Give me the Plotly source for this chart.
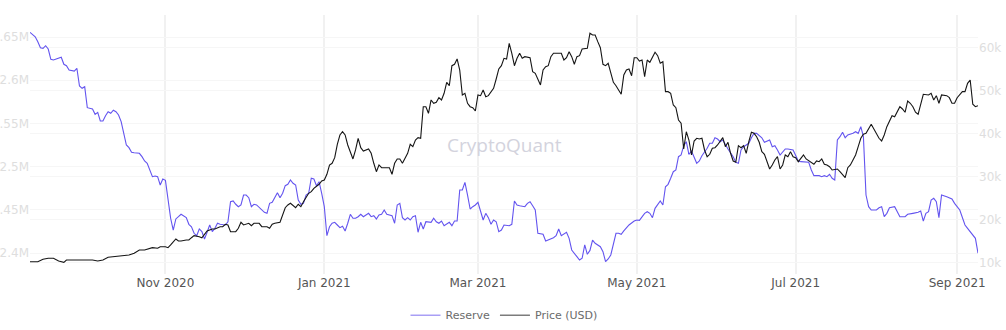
import pandas as pd
import plotly.graph_objects as go

# Day offsets are counted from START (daily series).
START = "2020-09-10"

reserve_day = [
    0, 2, 3, 4, 5, 6, 7, 8, 9, 11, 12, 13, 14, 15, 17, 18, 19, 20, 21, 22,
    23, 24, 25, 26, 27, 28, 29, 30, 31, 32, 33, 34, 35, 36, 37, 38, 39, 40, 42, 43,
    44, 45, 46, 47, 48, 49, 50, 51, 52, 53, 54, 55, 56, 57, 58, 60, 61, 62, 63, 64,
    65, 66, 67, 68, 69, 70, 71, 72, 73, 75, 76, 77, 78, 79, 80, 81, 82, 83, 84, 85,
    86, 87, 88, 90, 91, 92, 93, 94, 95, 96, 97, 98, 99, 100, 101, 102, 103, 104, 105, 106,
    107, 108, 109, 110, 111, 112, 113, 114, 115, 116, 117, 118, 119, 120, 121, 122, 123, 124, 125, 126,
    127, 128, 130, 131, 132, 133, 134, 135, 136, 137, 139, 140, 141, 142, 143, 144, 145, 146, 147, 148,
    149, 150, 151, 152, 154, 155, 156, 157, 158, 159, 161, 162, 163, 164, 165, 166, 167, 168, 169, 170,
    171, 172, 173, 174, 175, 176, 177, 178, 179, 180, 181, 182, 184, 185, 186, 187, 188, 190, 191, 192,
    193, 194, 195, 197, 198, 199, 201, 202, 203, 204, 206, 207, 208, 210, 211, 212, 213, 214, 215, 216,
    217, 219, 220, 221, 222, 223, 225, 226, 227, 228, 229, 230, 232, 233, 234, 235, 236, 237, 238, 239,
    240, 242, 243, 244, 245, 246, 247, 248, 249, 250, 251, 252, 253, 254, 255, 256, 257, 258, 260, 261,
    262, 263, 264, 265, 266, 267, 268, 270, 271, 272, 273, 274, 276, 277, 278, 279, 280, 281, 282, 284,
    285, 286, 287, 288, 290, 291, 293, 294, 295, 296, 297, 299, 300, 301, 303, 304, 305, 306, 307, 308,
    309, 310, 311, 312, 313, 314, 316, 317, 318, 319, 320, 321, 322, 323, 325, 326, 327, 328, 329, 330,
    332, 333, 334, 336, 337, 339, 341, 342, 343, 344, 345, 346, 347, 348, 349, 350, 351, 352, 354, 355,
    357, 358, 359, 360, 361, 362, 363, 364,
]

reserve_btc = [
    2655400, 2650300, 2644600, 2637600, 2636900, 2639900, 2636100, 2624200, 2623400, 2626000,
    2626500, 2618400, 2616800, 2611800, 2610600, 2613800, 2593300, 2590600, 2592500, 2568200,
    2567500, 2566700, 2560500, 2562800, 2552800, 2552800, 2558900, 2563500, 2561700, 2565200,
    2563500, 2559700, 2552000, 2536600, 2525000, 2521900, 2516600, 2516100, 2515400, 2511500,
    2506500, 2503800, 2496900, 2488300, 2489100, 2488300, 2478700, 2485600, 2484100, 2459400,
    2440200, 2426600, 2439400, 2442000, 2444800, 2440900, 2433200, 2430400, 2422800, 2420000,
    2427800, 2424700, 2416200, 2424000, 2432400, 2424700, 2428600, 2434400, 2433200, 2432400,
    2436200, 2459400, 2460200, 2456400, 2453600, 2455600, 2467100, 2467100, 2464000, 2453600,
    2456400, 2455600, 2452400, 2447100, 2445900, 2457500, 2458700, 2464000, 2469800, 2464000,
    2469100, 2477900, 2479500, 2484500, 2480700, 2478700, 2461300, 2456400, 2457500, 2467100,
    2469100, 2486500, 2485600, 2477900, 2482500, 2469100, 2453600, 2420000, 2430400, 2434400,
    2435500, 2432400, 2429300, 2430900, 2425500, 2434400, 2444800, 2440200, 2440200, 2442000,
    2444800, 2442000, 2445900, 2442000, 2443200, 2439400, 2444000, 2444800, 2449800, 2444800,
    2443200, 2434400, 2455600, 2457500, 2440900, 2438200, 2440900, 2438200, 2442000, 2443200,
    2424000, 2435500, 2427800, 2436200, 2435500, 2440200, 2436200, 2434400, 2437000, 2431600,
    2435500, 2431600, 2437000, 2437000, 2472900, 2472900, 2481800, 2467100, 2450900, 2453600,
    2455600, 2458700, 2447800, 2438200, 2445900, 2440900, 2433200, 2438200, 2436200, 2424700,
    2426600, 2432400, 2431600, 2433200, 2460200, 2455600, 2454700, 2453600, 2457500, 2459400,
    2454700, 2449800, 2422800, 2421600, 2413900, 2415000, 2417700, 2420000, 2427800, 2420000,
    2424000, 2417000, 2403500, 2395700, 2391900, 2393900, 2409300, 2398500, 2403000, 2415000,
    2411200, 2407300, 2401500, 2389900, 2393100, 2397700, 2422800, 2422800, 2421600, 2425500,
    2428600, 2432400, 2437000, 2438200, 2437800, 2442000, 2445900, 2447800, 2445900, 2440900,
    2451700, 2460200, 2455600, 2476700, 2479500, 2486500, 2494100, 2496100, 2511500, 2513400,
    2524200, 2528800, 2514200, 2518100, 2510300, 2503800, 2506500, 2512600, 2521200, 2527000,
    2527000, 2533400, 2531900, 2528800, 2530800, 2525000, 2520400, 2511500, 2505000, 2503800,
    2519200, 2523000, 2527000, 2533400, 2538500, 2538500, 2535800, 2533400, 2528100, 2530800,
    2523000, 2524200, 2519200, 2513400, 2520400, 2520400, 2519200, 2513400, 2506500, 2505700,
    2505700, 2505000, 2496100, 2489500, 2489500, 2488300, 2489500, 2488300, 2491100, 2486500,
    2484500, 2530800, 2534600, 2539700, 2533400, 2536600, 2538500, 2540400, 2538500, 2546200,
    2534600, 2467100, 2453600, 2449800, 2449800, 2452400, 2453600, 2442000, 2445900, 2452400,
    2453600, 2448600, 2442000, 2442000, 2444800, 2445900, 2447100, 2448600, 2437000, 2445900,
    2447800, 2461300, 2463300, 2459400, 2440900, 2467100, 2466300, 2465200, 2462500, 2457500,
    2449800, 2440900, 2432400, 2428600, 2424700, 2421600, 2417000, 2399700,
]

price_day = [
    0, 3, 5, 7, 9, 11, 13, 14, 16, 19, 21, 24, 26, 28, 30, 33, 35, 38, 40, 42,
    44, 45, 47, 49, 50, 52, 53, 54, 56, 57, 58, 60, 61, 62, 63, 65, 66, 67, 68, 70,
    71, 73, 74, 75, 76, 77, 79, 80, 81, 82, 84, 85, 86, 88, 89, 91, 92, 93, 94, 96,
    97, 98, 99, 100, 102, 103, 104, 105, 107, 108, 109, 111, 112, 113, 114, 115, 116, 117, 118, 119,
    120, 121, 122, 124, 125, 126, 127, 128, 130, 131, 132, 133, 134, 135, 137, 138, 139, 140, 141, 142,
    143, 145, 146, 147, 148, 149, 150, 151, 152, 153, 154, 155, 156, 157, 158, 159, 160, 161, 162, 163,
    164, 165, 166, 167, 168, 169, 170, 171, 172, 173, 174, 175, 176, 178, 179, 180, 181, 182, 183, 184,
    185, 186, 187, 188, 189, 190, 192, 193, 194, 195, 196, 197, 198, 199, 200, 201, 202, 204, 205, 206,
    207, 208, 209, 210, 211, 212, 214, 215, 216, 217, 218, 219, 220, 221, 222, 223, 224, 225, 226, 227,
    228, 229, 230, 231, 232, 233, 234, 235, 236, 237, 238, 239, 240, 241, 242, 243, 244, 245, 246, 247,
    248, 249, 250, 251, 252, 253, 254, 255, 256, 257, 258, 259, 260, 261, 262, 263, 264, 266, 267, 268,
    269, 270, 271, 272, 273, 274, 275, 276, 277, 278, 279, 280, 281, 282, 283, 284, 285, 286, 287, 288,
    289, 290, 291, 292, 293, 294, 295, 296, 297, 298, 299, 301, 302, 303, 304, 305, 306, 307, 308, 310,
    311, 312, 313, 314, 315, 316, 317, 318, 319, 320, 321, 323, 324, 325, 326, 327, 328, 329, 331, 332,
    333, 334, 335, 336, 337, 338, 339, 340, 341, 342, 343, 345, 346, 347, 348, 349, 350, 352, 353, 354,
    355, 356, 357, 358, 359, 360, 361, 362, 363, 364,
]

price_usd = [
    10300, 10300, 10860, 11090, 11090, 10470, 10160, 10700, 10700, 10700,
    10530, 10700, 10470, 10700, 11330, 11470, 11560, 11860, 12260, 13020,
    13020, 13190, 13560, 13420, 13790, 13790, 13560, 14190, 15580, 15120,
    15120, 15350, 15350, 15880, 16350, 16120, 15880, 16670, 17440, 17910,
    17910, 18440, 18440, 19000, 18840, 17280, 17280, 18070, 19470, 18840,
    19230, 18670, 19230, 19230, 18440, 18440, 18070, 19000, 19230, 19470,
    21330, 22860, 23490, 23880, 22860, 23650, 23090, 24260, 26210, 26580,
    27370, 28300, 29070, 29300, 30630, 32790, 33190, 34490, 37600, 39770,
    40530, 39770, 37440, 34190, 36280, 39000, 36810, 36050, 36510, 35510,
    33190, 31230, 32790, 32160, 32160, 32160, 30630, 33190, 34190, 34190,
    33190, 35510, 37600, 37050, 38600, 39140, 39000, 46350, 46350, 44810,
    47910, 47140, 47370, 48440, 47910, 49470, 52020, 51230, 55880, 56210,
    57440, 54880, 49070, 49470, 47140, 46350, 46120, 45350, 49070, 48910,
    50230, 48670, 48910, 50630, 52790, 55120, 55880, 57600, 57440, 61090,
    58770, 55880, 57600, 58770, 57600, 57980, 57740, 54490, 54120, 52560,
    51400, 54880, 55650, 55880, 57980, 58770, 58770, 58770, 57210, 57740,
    59140, 57980, 56210, 57980, 58210, 59770, 59930, 63420, 63020, 63020,
    61470, 60070, 56210, 55880, 56440, 54120, 52020, 51230, 50230, 49230,
    53720, 54880, 55120, 53560, 57740, 57740, 56980, 57210, 53330, 57210,
    56670, 57740, 59000, 58210, 56440, 56810, 49840, 49840, 49470, 46740,
    46120, 43260, 42490, 36510, 40530, 38600, 35120, 38370, 39000, 38840,
    39000, 36280, 34720, 35280, 36670, 36810, 37440, 39140, 37050, 38070,
    35510, 33720, 33420, 37280, 36810, 37280, 35510, 38210, 40400, 40160,
    39370, 38070, 35880, 35280, 33560, 31860, 32790, 33950, 34720, 31860,
    32790, 35120, 34720, 35880, 34720, 34490, 33560, 34350, 35120, 34190,
    33720, 32950, 33720, 33560, 34190, 32950, 32790, 32400, 31630, 31860,
    31230, 30630, 29840, 32160, 32790, 33950, 35120, 37050, 39000, 39930,
    40160, 42260, 41160, 39930, 39000, 38370, 39770, 41700, 44260, 44020,
    45050, 46350, 45810, 45050, 47670, 47140, 46350, 45050, 44580, 46740,
    49230, 49070, 49470, 47910, 48910, 47140, 49070, 48910, 48440, 47140,
    47140, 48440, 49070, 49840, 49840, 51790, 52560, 46910, 46350, 46580,
]

reserve_tick_vals = [2400000, 2450000, 2500000, 2550000, 2600000, 2650000]
price_tick_vals = [10000, 20000, 30000, 40000, 50000, 60000]

start = pd.Timestamp(START)
reserve_dates = start + pd.to_timedelta(reserve_day, unit="D")
price_dates = start + pd.to_timedelta(price_day, unit="D")
x_end = start + pd.Timedelta(days=max(max(reserve_day), max(price_day)))

RESERVE_COLOR = "#6354ef"
PRICE_COLOR = "#151515"
FONT = "DejaVu Sans"

fig = go.Figure()

fig.add_trace(go.Scatter(
    x=reserve_dates, y=reserve_btc, mode="lines", name="Reserve",
    line=dict(color=RESERVE_COLOR, width=1.1), yaxis="y", showlegend=False,
))
fig.add_trace(go.Scatter(
    x=price_dates, y=price_usd, mode="lines", name="Price (USD)",
    line=dict(color=PRICE_COLOR, width=1.1), yaxis="y2", showlegend=False,
))

# legend entries with softened swatches
fig.add_trace(go.Scatter(
    x=[None], y=[None], mode="lines", name="Reserve",
    line=dict(color="#a99ff5", width=1.5), yaxis="y",
))
fig.add_trace(go.Scatter(
    x=[None], y=[None], mode="lines", name="Price (USD)",
    line=dict(color="#7c7c7c", width=1.5), yaxis="y2",
))

fig.update_layout(
    width=1006,
    height=330,
    margin=dict(l=30, r=28, t=15, b=56, autoexpand=False),
    paper_bgcolor="white",
    plot_bgcolor="white",
    font=dict(family=FONT, size=12, color="#555555"),
    showlegend=True,
    legend=dict(
        orientation="h", x=0.5, xanchor="center",
        yref="container", y=0.045, yanchor="middle",
        font=dict(family=FONT, size=11, color="#6b6b6b"),
        bgcolor="rgba(0,0,0,0)",
    ),
    xaxis=dict(
        type="date",
        range=[start, x_end],
        tick0="2020-11-01",
        dtick="M2",
        tickformat="%b %Y",
        showgrid=True,
        gridcolor="#f1f1f1",
        gridwidth=1.5,
        zeroline=False,
        showline=False,
        ticks="",
        automargin=False,
        tickfont=dict(family=FONT, size=12, color="#555555"),
    ),
    yaxis=dict(
        range=[2375690, 2675460],
        tickvals=reserve_tick_vals,
        tickformat=".3~s",
        showgrid=True,
        gridcolor="#f6f6f6",
        gridwidth=1,
        zeroline=False,
        showline=False,
        ticks="",
        automargin=False,
        tickfont=dict(family=FONT, size=12, color="#dedede"),
    ),
    yaxis2=dict(
        overlaying="y",
        side="right",
        range=[7440, 67670],
        tickvals=price_tick_vals,
        tickformat="~s",
        showgrid=True,
        gridcolor="#f6f6f6",
        gridwidth=1,
        zeroline=False,
        showline=False,
        ticks="",
        automargin=False,
        tickfont=dict(family=FONT, size=12, color="#dedede"),
    ),
    annotations=[dict(
        text="CryptoQuant", xref="paper", yref="paper", x=0.5, y=0.5,
        xanchor="center", yanchor="middle", showarrow=False,
        font=dict(family="Open Sans", size=19, color="#d3d3dd"),
    )],
)

fig.write_html("out.html")
